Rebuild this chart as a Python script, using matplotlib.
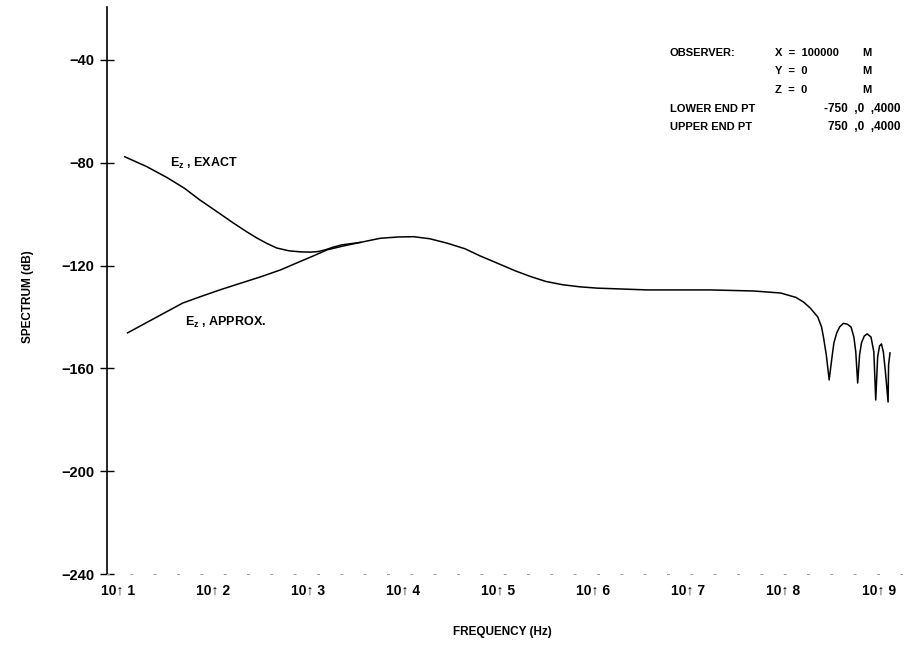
import matplotlib.pyplot as plt
import numpy as np

plt.rcParams['font.family'] = ['Liberation Sans', 'DejaVu Sans']
plt.rcParams['font.weight'] = 'bold'
plt.rcParams['mathtext.fontset'] = 'custom'
plt.rcParams['mathtext.rm'] = 'Liberation Sans:bold'
plt.rcParams['mathtext.bf'] = 'Liberation Sans:bold'

# log10(frequency) and spectrum in dB
exact_logf = [1.07, 1.30, 1.52, 1.70, 1.86, 2.05, 2.21, 2.35, 2.46, 2.57, 2.67, 2.80,
              2.92, 3.02, 3.10, 3.18, 3.26, 3.35, 3.45, 3.55]
exact_db = [-77.7, -81.5, -85.9, -90.0, -94.5, -99.3, -103.4, -106.8, -109.3, -111.5,
            -113.2, -114.3, -114.7, -114.8, -114.6, -113.9, -112.9, -112.0, -111.5, -111.0]

approx_logf = [1.10, 1.34, 1.68, 1.86, 2.07, 2.28, 2.50, 2.71, 2.88, 3.04, 3.20, 3.37,
               3.55, 3.76, 3.95, 4.11, 4.28, 4.46, 4.65, 4.81, 4.99, 5.18, 5.34, 5.50,
               5.68, 5.86, 6.04, 6.57, 7.23, 7.68, 7.97, 8.13, 8.21, 8.28, 8.36, 8.40,
               8.42, 8.45, 8.48, 8.51, 8.53, 8.56, 8.59, 8.63, 8.67, 8.71, 8.74, 8.76,
               8.78, 8.80, 8.82, 8.85, 8.88, 8.92, 8.95, 8.97, 8.99, 9.01, 9.03, 9.05,
               9.07, 9.10, 9.105, 9.12]
approx_db = [-146.2, -141.4, -134.6, -132.2, -129.5, -127.0, -124.4, -121.7, -119.0, -116.5,
             -113.9, -112.4, -111.0, -109.4, -108.9, -108.8, -109.6, -111.3, -113.5, -116.3,
             -119.1, -122.1, -124.3, -126.2, -127.5, -128.3, -128.8, -129.5, -129.5, -129.9,
             -130.7, -132.4, -134.2, -136.5, -140.0, -143.9, -147.8, -154.8, -164.5, -155.6,
             -150.1, -146.2, -143.9, -142.5, -142.8, -143.9, -147.8, -153.6, -165.7, -154.8,
             -150.1, -147.4, -146.6, -147.8, -153.6, -172.3, -155.6, -151.3, -150.5, -153.6,
             -160.6, -173.1, -158.7, -154.0]

yticks = [-40, -80, -120, -160, -200, -240]
xtick_exp = [1, 2, 3, 4, 5, 6, 7, 8, 9]
xtick_labels = ['10\u2191 %d' % e for e in xtick_exp]

fig = plt.figure(figsize=(9.1, 6.45), dpi=100)
ax = fig.add_axes([0.1176, 0.110, 0.874, 0.879])

ax.plot(exact_logf, exact_db, color='black', lw=1.1)
ax.plot(approx_logf, approx_db, color='black', lw=1.1)

ax.set_xlim(0.884, 9.25)
ax.set_ylim(-240, -19.5)

ax.spines['top'].set_visible(False)
ax.spines['right'].set_visible(False)
ax.spines['left'].set_linewidth(1.2)
ax.spines['bottom'].set_linewidth(0.7)
ax.spines['bottom'].set_color('0.6')
ax.spines['bottom'].set_linestyle((0, (2, 22)))

ax.set_yticks(yticks)
ax.set_yticklabels([str(v).replace('-', '\u2212') for v in yticks], fontsize=10.5,
                   fontweight='bold')
ax.tick_params(axis='y', direction='inout', length=10, width=1, pad=4)

ax.set_xticks(xtick_exp)
ax.set_xticklabels(xtick_labels, fontsize=10, fontweight='bold')
ax.tick_params(axis='x', length=0, pad=7)

ax.set_ylabel('SPECTRUM (dB)', fontsize=8.5, fontweight='bold')
ax.yaxis.set_label_coords(-0.092, 0.49)
ax.set_xlabel('FREQUENCY (Hz)', fontsize=8.5, fontweight='bold')
ax.xaxis.set_label_coords(0.497, -0.092)

ax.text(1.55, -80.3, r'E$_\mathbf{z}$ , EXACT', fontsize=9, fontweight='bold', va='center')
ax.text(1.70, -142.3, r'E$_\mathbf{z}$ , APPROX.', fontsize=9, fontweight='bold', va='center')

# observer info block, figure pixel coords
fs = 8
rows = [
    ('OBSERVER:', 'X  =  100000', 'M'),
    ('', 'Y  =  0', 'M'),
    ('', 'Z  =  0', 'M'),
]
for i, (left, mid, unit) in enumerate(rows):
    y = 1 - (53 + i * 18.5) / 645
    if left:
        fig.text(670 / 910, y, left, fontsize=fs, fontweight='bold', va='center')
    fig.text(775 / 910, y, mid, fontsize=fs, fontweight='bold', va='center')
    fig.text(862 / 910, y, unit, fontsize=fs, fontweight='bold', va='center')
ends = [('LOWER END PT', '-750  ,0  ,4000'), ('UPPER END PT', '750  ,0  ,4000')]
for i, (left, right) in enumerate(ends):
    y = 1 - (53 + (i + 3) * 18.5) / 645
    fig.text(670 / 910, y, left, fontsize=fs, fontweight='bold', va='center')
    fig.text(900 / 910, y, right, fontsize=8.5, fontweight='bold', va='center', ha='right')

fig.savefig('out.png', dpi=100)
